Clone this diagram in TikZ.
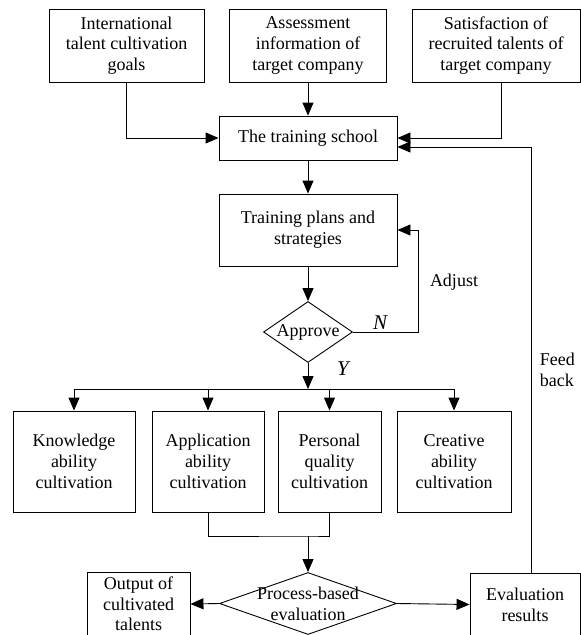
\documentclass[tikz,border=0pt]{standalone}
\usepackage{fontspec}
\setmainfont{Liberation Serif}
\usetikzlibrary{arrows.meta,shapes.geometric}

\begin{document}
\begin{tikzpicture}[x=1pt, y=-1pt, line width=0.9pt, >={Triangle[length=13pt,width=11pt]},
font=\fontsize{18}{20.7}\selectfont,
box/.style={draw, align=center, inner sep=0pt},
dec/.style={draw, diamond, inner sep=0pt, aspect=1.5},
yn/.style={font=\fontsize{21}{24}\selectfont\itshape}]
\useasboundingbox (0,0) rectangle (581,635) ;
\node[box, minimum width=155pt, minimum height=73pt] (goals) at (126.5,45.5) {International\\talent cultivation\\goals} ;
\node[box, minimum width=157pt, minimum height=73pt] (assess) at (308,45.5) {Assessment\\information of\\target company} ;
\node[box, minimum width=168pt, minimum height=73pt] (satisf) at (496,45.5) {Satisfaction of\\recruited talents of\\target company} ;
\node[box, minimum width=178pt, minimum height=44pt] (school) at (308,138) {The training school} ;
\node[box, minimum width=178pt, minimum height=72pt] (plans) at (308,230) {Training plans and\\strategies} ;
\node[dec, minimum width=89pt, minimum height=61pt] (approve) at (308,332) {Approve} ;
\node[box, minimum width=122pt, minimum height=101pt] (know) at (74,461.5) {Knowledge\\ability\\cultivation} ;
\node[box, minimum width=112pt, minimum height=101pt] (appl) at (208,461.5) {Application\\ability\\cultivation} ;
\node[box, minimum width=103pt, minimum height=101pt] (pers) at (329.5,461.5) {Personal\\quality\\cultivation} ;
\node[box, minimum width=114pt, minimum height=101pt] (crea) at (454,461.5) {Creative\\ability\\cultivation} ;
\node[dec, minimum width=177pt, minimum height=62pt] (proc) at (308,603.5) {} ;
\node[align=center] (proctext) at (308,604) {Process-based\\evaluation} ;
\node[box, minimum width=103pt, minimum height=64pt] (out) at (138.5,604) {Output of\\cultivated\\talents} ;
\node[box, minimum width=110pt, minimum height=63pt] (eval) at (525,604.5) {Evaluation\\results} ;
\node[yn] (n) at (380,323) {N} ;
\node[yn] (y) at (343,369) {Y} ;
\node (adjust) at (454,282) {Adjust} ;
\node[align=left, anchor=west] (feed) at (536,370) {Feed\\back} ;
\coordinate (split) at (308,389) ;
\coordinate (merge) at (308,536) ;
\draw[->] (goals.south) |- (school.west) ;
\draw[->] (assess) -- (school) ;
\draw[->] ([xshift=5pt]satisf.south) |- (school.east) ;
\draw[->] ([xshift=6pt]eval.north) |- ([yshift=-9pt]school.east) ;
\draw[->] (school) -- (plans) ;
\draw[->] (plans) -- (approve) ;
\draw[->] (approve.east) -- ++(65,0) |- (plans.east) ;
\draw[->] (approve.south) -- (split) ;
\draw[->] (split) -| (know) ;
\draw[->] (split) -| (appl) ;
\draw[->] (split) -| (pers) ;
\draw[->] (split) -| (crea) ;
\draw (appl.south) |- (merge) -| (pers.south) ;
\draw[->] (merge) -- (proc.north) ;
\draw[->] (proc.west) -- (out.east) ;
\draw[->] (proc.east) -- (eval.west) ;
\end{tikzpicture}
\end{document}
